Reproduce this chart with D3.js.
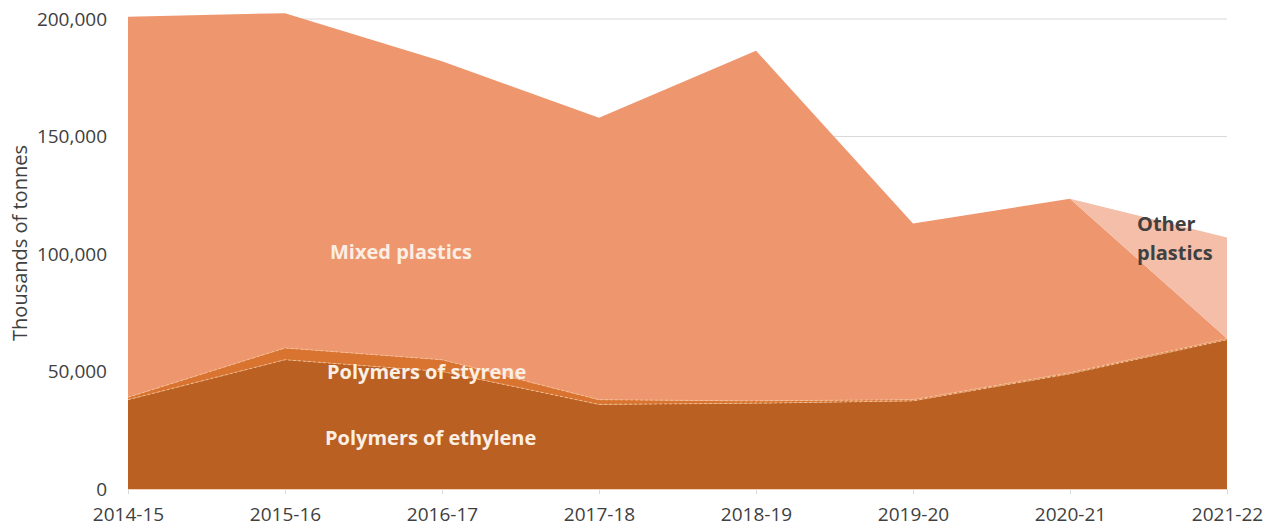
<!DOCTYPE html>
<html>
<head>
<meta charset="utf-8">
<script src="https://cdn.jsdelivr.net/npm/d3@7"></script>
<style>
  body { margin: 0; background: #fff; }
  svg { display: block; font-family: "Open Sans", sans-serif; }
</style>
</head>
<body>
<svg id="chart" width="1276" height="531"></svg>
<script>
const years = ["2014-15", "2015-16", "2016-17", "2017-18", "2018-19", "2019-20", "2020-21", "2021-22"];
const ethylene = [38000, 55000, 50000, 36000, 36500, 37500, 49000, 63500];
const styrene = [1000, 5000, 5000, 2000, 1000, 500, 500, 500];
const mixed = [162000, 142500, 127000, 120000, 149000, 75000, 74000, 0];
const other = [0, 0, 0, 0, 0, 0, 0, 43000];
const yTicks = [0, 50000, 100000, 150000, 200000];

const keys = ["ethylene", "styrene", "mixed", "other"];
const colors = {
  ethylene: "#b96022",
  styrene: "#d8742f",
  mixed: "#ee976e",
  other: "#f4bea9"
};

const rows = years.map((y, i) => ({
  year: y,
  ethylene: ethylene[i],
  styrene: styrene[i],
  mixed: mixed[i],
  other: other[i]
}));

const svg = d3.select("#chart");
const plotLeft = 128, plotRight = 1227, plotTop = 19, plotBottom = 489;

const x = d3.scalePoint().domain(years).range([plotLeft, plotRight]);
const y = d3.scaleLinear().domain([0, 200000]).range([plotBottom, plotTop]);

// gridlines
svg.append("g")
  .selectAll("line")
  .data(yTicks.filter(d => d > 0))
  .join("line")
  .attr("x1", plotLeft).attr("x2", plotRight)
  .attr("y1", d => y(d)).attr("y2", d => y(d))
  .attr("stroke", "#d9d9d9")
  .attr("stroke-width", 1);

const stacked = d3.stack().keys(keys)(rows);

const area = d3.area()
  .x(d => x(d.data.year))
  .y0(d => y(d[0]))
  .y1(d => y(d[1]));

svg.append("g")
  .selectAll("path")
  .data(stacked)
  .join("path")
  .attr("d", area)
  .attr("fill", d => colors[d.key]);

// faint boundary lines between layers
const topLine = d3.line()
  .x(d => x(d.data.year))
  .y(d => y(d[1]));

svg.append("g")
  .selectAll("path")
  .data(stacked.slice(0, 2))
  .join("path")
  .attr("d", topLine)
  .attr("fill", "none")
  .attr("stroke", "#f6c49c")
  .attr("stroke-width", 1)
  .attr("stroke-dasharray", "3,2")
  .attr("opacity", 0.8);

// x axis baseline
const xAxis = svg.append("g")
  .attr("transform", `translate(0,${plotBottom})`)
  .call(d3.axisBottom(x).tickSize(5).tickSizeOuter(0).tickPadding(14));
xAxis.select(".domain").attr("stroke", "#f3d2bd");
xAxis.selectAll(".tick line").attr("stroke", "#d9d9d9");
xAxis.selectAll("text")
  .attr("font-size", 19)
  .attr("fill", "#404040")
  .attr("font-family", "Open Sans, sans-serif");

// y axis labels
const yAxis = svg.append("g")
  .attr("transform", `translate(${plotLeft},0)`)
  .call(d3.axisLeft(y).tickValues(yTicks).tickFormat(d3.format(",")).tickSize(0).tickPadding(21));
yAxis.select(".domain").remove();
yAxis.selectAll("text")
  .attr("font-size", 19)
  .attr("fill", "#404040")
  .attr("font-family", "Open Sans, sans-serif");

svg.append("text")
  .attr("transform", "translate(27,243) rotate(-90)")
  .attr("text-anchor", "middle")
  .attr("font-size", 20)
  .attr("fill", "#404040")
  .text("Thousands of tonnes");

// series labels
const labels = [
  { text: "Mixed plastics", x: 330, y: 259, fill: "#fbeee3" },
  { text: "Polymers of styrene", x: 327, y: 379, fill: "#fbeee3" },
  { text: "Polymers of ethylene", x: 325, y: 445, fill: "#fbeee3" },
  { text: "Other", x: 1137, y: 231, fill: "#404040" },
  { text: "plastics", x: 1137, y: 260, fill: "#404040" }
];
svg.append("g")
  .selectAll("text")
  .data(labels)
  .join("text")
  .attr("x", d => d.x)
  .attr("y", d => d.y)
  .attr("fill", d => d.fill)
  .attr("font-size", 20)
  .attr("font-weight", "bold")
  .text(d => d.text);
</script>
</body>
</html>
